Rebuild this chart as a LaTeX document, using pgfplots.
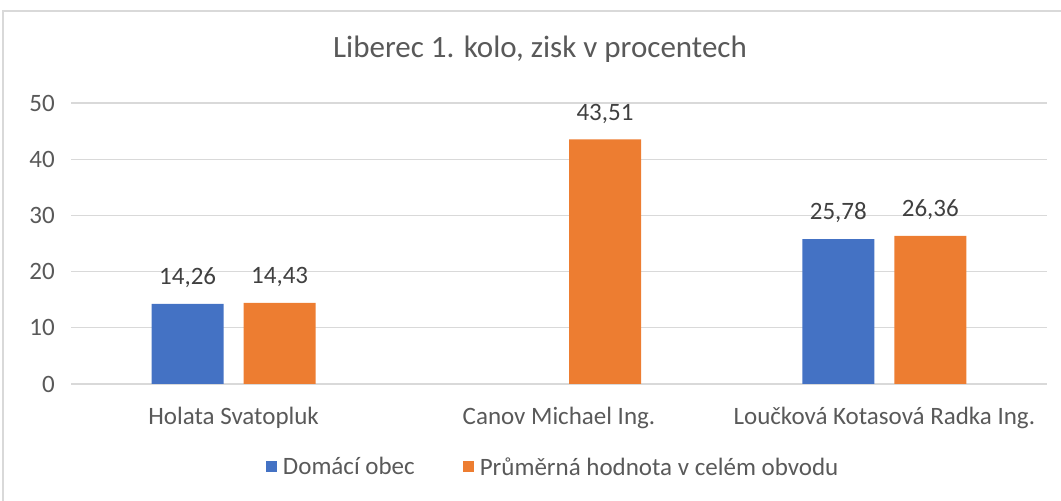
\documentclass[border=0pt]{standalone}
\usepackage{pgfplots}
\pgfplotsset{compat=1.18}
\usepackage{fontspec}
\setmainfont{Carlito}
\definecolor{cblue}{HTML}{4472C4}
\definecolor{corange}{HTML}{ED7D31}
\definecolor{cgrid}{HTML}{D9D9D9}
\definecolor{ctext}{HTML}{595959}
\definecolor{clabel}{HTML}{404040}
\begin{document}
\begin{tikzpicture}
\path[use as bounding box] (0bp,0bp) rectangle (1061bp,501bp);
\draw[cgrid, line width=1.2bp] (3bp,-10bp) -- (3bp,490bp) -- (1075bp,490bp);
\node[font=\fontsize{31bp}{36bp}\selectfont, text=ctext] at (540bp,452bp) {Liberec 1. kolo, zisk v procentech};
\begin{axis}[
  at={(71bp,117bp)}, anchor=south west,
  scale only axis, width=976bp, height=281bp,
  xmin=-0.5, xmax=2.5, ymin=0, ymax=50,
  ybar, bar width=72bp,
  xtick={0,1,2},
  xticklabels={Holata Svatopluk, Canov Michael Ing., Loučková Kotasová Radka Ing.},
  ytick={0,10,...,50},
  ymajorgrids, grid style={cgrid, line width=1.2bp},
  axis line style={draw=none},
  major tick length=0pt,
  /pgf/number format/assume math mode=true,
  yticklabel style={font=\fontsize{25bp}{29bp}\selectfont, text=ctext, inner sep=0pt, anchor=east, xshift=-16bp},
  xticklabel style={font=\fontsize{25bp}{29bp}\selectfont, text=ctext, inner sep=0pt, anchor=north, yshift=-23bp},
  nodes near coords={\pgfmathprintnumber[fixed,fixed zerofill,precision=2,use comma,assume math mode=true]{\pgfplotspointmeta}},
  every node near coord/.append style={font=\fontsize{25bp}{29bp}\selectfont, text=clabel, inner sep=0pt, anchor=south, yshift=16bp},
  legend style={at={(0.494,-0.295)}, anchor=center, draw=none, fill=none, legend columns=2,
    font=\fontsize{25bp}{29bp}\selectfont, text=ctext, inner sep=0pt,
    /tikz/every odd column/.append style={column sep=4bp},
    /tikz/every even column/.append style={column sep=46bp}},
  legend image code/.code={\fill[#1] (0bp,-5.5bp) rectangle (11bp,5.5bp);},
  legend cell align=left,
  clip=false,
]
\addplot[fill=cblue, draw=none, bar shift=-46bp] coordinates {(0,14.26) (2,25.78)};
\addplot[fill=corange, draw=none, bar shift=46bp] coordinates {(0,14.43) (1,43.51) (2,26.36)};
\legend{Domácí obec, Průměrná hodnota v celém obvodu}
\end{axis}
\end{tikzpicture}
\end{document}
